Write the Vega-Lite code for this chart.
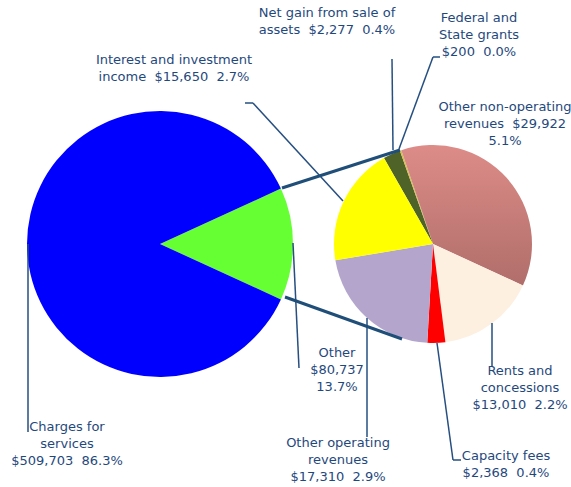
{
  "$schema": "https://vega.github.io/schema/vega-lite/v6.json",
  "autosize": {"type": "fit", "contains": "padding"},
  "width": 571,
  "height": 487,
  "padding": 0,
  "background": "white",
  "config": {"view": {"stroke": null}, "text": {"font": "DejaVu Sans", "fontSize": 13, "color": "#1f497d", "lineHeight": 17, "align": "center", "baseline": "middle"}, "rule": {"color": "#264f80", "strokeWidth": 1.5}},
  "datasets": {
    "main": [
      {"category": "Other", "value": 80737, "idx": 1, "label": "Other\n$80,737\n13.7%"},
      {"category": "Charges for services", "value": 509703, "idx": 2, "label": "Charges for\nservices\n$509,703\u00a0\u00a086.3%"}
    ],
    "other": [
      {"category": "Net gain from sale of assets", "value": 2277, "idx": 1, "label": "Net gain from sale of\nassets\u00a0\u00a0$2,277\u00a0\u00a00.4%"},
      {"category": "Federal and State grants", "value": 200, "idx": 2, "label": "Federal and\nState grants\n$200\u00a0\u00a00.0%"},
      {"category": "Other non-operating revenues", "value": 29922, "idx": 3, "label": "Other non-operating\nrevenues\u00a0\u00a0$29,922\n5.1%"},
      {"category": "Rents and concessions", "value": 13010, "idx": 4, "label": "Rents and\nconcessions\n$13,010\u00a0\u00a02.2%"},
      {"category": "Capacity fees", "value": 2368, "idx": 5, "label": "Capacity fees\n$2,368\u00a0\u00a00.4%"},
      {"category": "Other operating revenues", "value": 17310, "idx": 6, "label": "Other operating\nrevenues\n$17,310\u00a0\u00a02.9%"},
      {"category": "Interest and investment income", "value": 15650, "idx": 7, "label": "Interest and investment\nincome\u00a0\u00a0$15,650\u00a0\u00a02.7%"}
    ]
  },
  "data": {"values": [{"k": 1}]},
  "layer": [
    {
      "data": {"name": "main"},
      "mark": {"type": "arc", "x": 160, "y": 244, "outerRadius": 133},
      "encoding": {
        "theta": {"field": "value", "type": "quantitative", "stack": true, "scale": {"range": [1.1412, 7.4244]}},
        "color": {"field": "category", "type": "nominal", "legend": null,
          "scale": {"domain": ["Other", "Charges for services"], "range": ["#66ff33", "#0000ff"]}},
        "order": {"field": "idx", "type": "quantitative"}
      }
    },
    {
      "data": {"name": "other"},
      "mark": {"type": "arc", "x": 433, "y": 244, "outerRadius": 99},
      "encoding": {
        "theta": {"field": "value", "type": "quantitative", "stack": true, "scale": {"range": [-0.5184, 5.7648]}},
        "fill": {
          "condition": {"test": "datum.category == 'Other non-operating revenues'",
            "value": {"gradient": "linear", "x1": 0, "y1": 0, "x2": 0, "y2": 1, "stops": [{"offset": 0, "color": "#dd8c88"}, {"offset": 1, "color": "#b06e6a"}]}},
          "field": "category", "type": "nominal", "legend": null,
          "scale": {"domain": ["Net gain from sale of assets", "Federal and State grants", "Other non-operating revenues", "Rents and concessions", "Capacity fees", "Other operating revenues", "Interest and investment income"],
                    "range": ["#4f6228", "#d4c04a", "#cd827d", "#fdf0e1", "#ff0000", "#b4a5cd", "#ffff00"]}},
        "order": {"field": "idx", "type": "quantitative"}
      }
    },
    {"mark": "rule", "encoding": {"x": {"value": 245}, "y": {"value": 103}, "x2": {"value": 253}, "y2": {"value": 103}}},
    {"mark": "rule", "encoding": {"x": {"value": 253}, "y": {"value": 103}, "x2": {"value": 343}, "y2": {"value": 201}}},
    {"mark": "rule", "encoding": {"x": {"value": 392}, "y": {"value": 59}, "x2": {"value": 393}, "y2": {"value": 150}}},
    {"mark": "rule", "encoding": {"x": {"value": 440}, "y": {"value": 57}, "x2": {"value": 433}, "y2": {"value": 57}}},
    {"mark": "rule", "encoding": {"x": {"value": 433}, "y": {"value": 57}, "x2": {"value": 399}, "y2": {"value": 149}}},
    {"mark": "rule", "encoding": {"x": {"value": 492}, "y": {"value": 323}, "x2": {"value": 492}, "y2": {"value": 367}}},
    {"mark": "rule", "encoding": {"x": {"value": 437}, "y": {"value": 343}, "x2": {"value": 453}, "y2": {"value": 460}}},
    {"mark": "rule", "encoding": {"x": {"value": 453}, "y": {"value": 460}, "x2": {"value": 461}, "y2": {"value": 460}}},
    {"mark": "rule", "encoding": {"x": {"value": 367}, "y": {"value": 318}, "x2": {"value": 367}, "y2": {"value": 437}}},
    {"mark": "rule", "encoding": {"x": {"value": 293}, "y": {"value": 243}, "x2": {"value": 299}, "y2": {"value": 368}}},
    {"mark": "rule", "encoding": {"x": {"value": 28}, "y": {"value": 244}, "x2": {"value": 28}, "y2": {"value": 432}}},
    {"mark": {"type": "rule", "color": "#1f4e79", "strokeWidth": 3}, "encoding": {"x": {"value": 282}, "y": {"value": 188}, "x2": {"value": 400}, "y2": {"value": 150}}},
    {"mark": {"type": "rule", "color": "#1f4e79", "strokeWidth": 3}, "encoding": {"x": {"value": 285}, "y": {"value": 297}, "x2": {"value": 402}, "y2": {"value": 339}}},
    {"data": {"name": "other"}, "transform": [{"filter": "datum.category == 'Interest and investment income'"}],
     "mark": {"type": "text", "x": 174, "y": 60, "lineBreak": "\n"}, "encoding": {"text": {"field": "label", "type": "nominal"}}},
    {"data": {"name": "other"}, "transform": [{"filter": "datum.category == 'Net gain from sale of assets'"}],
     "mark": {"type": "text", "x": 327, "y": 13, "lineBreak": "\n"}, "encoding": {"text": {"field": "label", "type": "nominal"}}},
    {"data": {"name": "other"}, "transform": [{"filter": "datum.category == 'Federal and State grants'"}],
     "mark": {"type": "text", "x": 479, "y": 18, "lineBreak": "\n"}, "encoding": {"text": {"field": "label", "type": "nominal"}}},
    {"data": {"name": "other"}, "transform": [{"filter": "datum.category == 'Other non-operating revenues'"}],
     "mark": {"type": "text", "x": 505, "y": 107, "lineBreak": "\n"}, "encoding": {"text": {"field": "label", "type": "nominal"}}},
    {"data": {"name": "other"}, "transform": [{"filter": "datum.category == 'Rents and concessions'"}],
     "mark": {"type": "text", "x": 520, "y": 371, "lineBreak": "\n"}, "encoding": {"text": {"field": "label", "type": "nominal"}}},
    {"data": {"name": "other"}, "transform": [{"filter": "datum.category == 'Capacity fees'"}],
     "mark": {"type": "text", "x": 506, "y": 456, "lineBreak": "\n"}, "encoding": {"text": {"field": "label", "type": "nominal"}}},
    {"data": {"name": "other"}, "transform": [{"filter": "datum.category == 'Other operating revenues'"}],
     "mark": {"type": "text", "x": 338, "y": 443, "lineBreak": "\n"}, "encoding": {"text": {"field": "label", "type": "nominal"}}},
    {"data": {"name": "main"}, "transform": [{"filter": "datum.category == 'Other'"}],
     "mark": {"type": "text", "x": 337, "y": 353, "lineBreak": "\n"}, "encoding": {"text": {"field": "label", "type": "nominal"}}},
    {"data": {"name": "main"}, "transform": [{"filter": "datum.category == 'Charges for services'"}],
     "mark": {"type": "text", "x": 67, "y": 427, "lineBreak": "\n"}, "encoding": {"text": {"field": "label", "type": "nominal"}}}
  ],
  "resolve": {"scale": {"theta": "independent", "color": "independent", "fill": "independent"}}
}
